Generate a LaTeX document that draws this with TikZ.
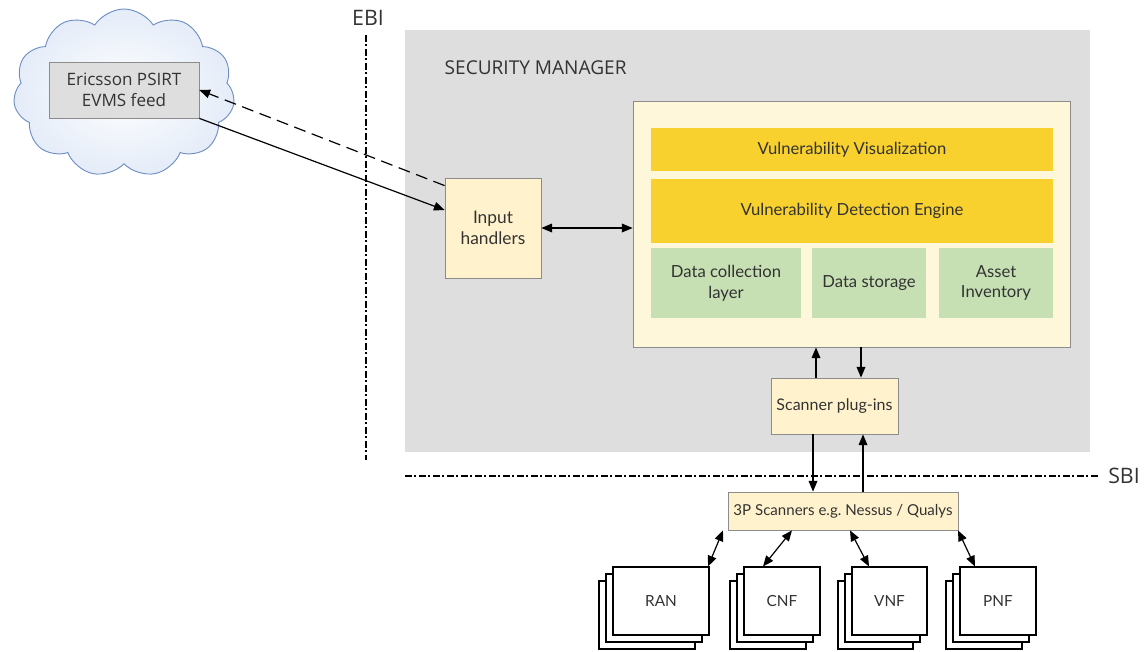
\documentclass[tikz,border=0pt]{standalone}
\usepackage{fontspec}
\setmainfont{Lato}
\newfontfamily\labelfont{Open Sans}
\usetikzlibrary{arrows.meta,calc,shapes.symbols}
\definecolor{panel}{HTML}{DEDEDE}
\definecolor{cream}{HTML}{FFF2CC}
\definecolor{creamlight}{HTML}{FFF7D9}
\definecolor{gold}{HTML}{F8D12F}
\definecolor{sage}{HTML}{C6E0B4}
\definecolor{edge}{HTML}{8C8C8C}
\definecolor{ink}{HTML}{333333}
\definecolor{cloudline}{HTML}{6F8FC4}
\definecolor{cloudfill}{HTML}{E4ECF8}
\begin{document}
\begin{tikzpicture}[x=0.75pt,y=-0.75pt,
  every node/.style={text=ink, font=\fontsize{12.5}{15.5}\selectfont},
  % rectangle given by its left, top, right and bottom edges
  region/.style n args={4}{at={({(#1+#3)/2},{(#2+#4)/2})},
     minimum width={0.75pt*(#3-(#1))}, minimum height={0.75pt*(#4-(#2))},
     inner sep=0pt, align=center},
  creambox/.style={draw=edge, fill=cream, line width=0.6pt},
  goldbar/.style={fill=gold},
  sagebox/.style={fill=sage},
  stackbox/.style={draw=black, fill=white, line width=0.8pt, font=\fontsize{11.5}{14}\selectfont},
  arr/.style={-{Triangle[length=8pt,width=6.5pt]}, line width=0.9pt},
  dblarr/.style={{Triangle[length=8pt,width=6.5pt]}-{Triangle[length=8pt,width=6.5pt]}, line width=0.9pt},
  border/.style={line width=1.7pt, dash pattern=on 5pt off 2pt on 1.5pt off 2pt}
]
\useasboundingbox (0,0) rectangle (1147,651);

% external feed in the cloud
\node[cloud, cloud puffs=11, cloud puff arc=115, aspect=1.4, draw=cloudline,
      line width=0.7pt, inner color=white, outer color=cloudfill,
      minimum width=166pt, minimum height=126pt] (cloud) at (124,93) {};
\node[region={49}{62}{199}{118}, draw=edge, fill=panel, line width=0.6pt,
      font=\labelfont\fontsize{12.8}{16}\selectfont] (eric) {Ericsson PSIRT\\EVMS feed};

% security manager panel
\node[region={405}{30}{1090}{452}, fill=panel] (sm) {};
\node[anchor=west, font=\labelfont\fontsize{14.3}{16}\selectfont] (smlabel) at (440,68) {SECURITY MANAGER};

% interface borders
\node[font=\labelfont\fontsize{16}{18}\selectfont] (ebi) at (368,18) {EBI};
\coordinate (ebitop) at (366,35);
\coordinate (ebibot) at (366,460);
\draw[border] (ebitop) -- (ebibot);
\node[font=\labelfont\fontsize{16}{18}\selectfont] (sbi) at (1124,476) {SBI};
\coordinate (sbileft) at (405,476);
\coordinate (sbiright) at (1100,476);
\draw[border] (sbileft) -- (sbiright);

% input handlers
\node[region={445}{178}{541}{278}, creambox, font=\fontsize{13}{15.5}\selectfont] (inp) {Input\\handlers};

% core block
\node[region={633}{101}{1070}{347}, draw=edge, fill=creamlight, line width=0.6pt] (core) {};
\node[region={651}{128}{1053}{171}, goldbar] (viz) {Vulnerability Visualization};
\node[region={651}{179}{1053}{243}, goldbar] (vde) {Vulnerability Detection Engine};
\node[region={651}{248}{801}{318}, sagebox] (dcl) {Data collection\\layer};
\node[region={812}{248}{926}{318}, sagebox] (dst) {Data storage};
\node[region={939}{248}{1053}{318}, sagebox] (inv) {Asset\\Inventory};

% scanner plug-ins and third-party scanners
\node[region={771}{378}{898}{434}, creambox, font=\fontsize{12}{14}\selectfont] (plug) {Scanner plug-ins};
\node[region={728}{492}{958}{530}, creambox, font=\fontsize{11.3}{14}\selectfont] (scan) {3P Scanners e.g.\ Nessus / Qualys};

% managed network functions (stacked)
\foreach \nm/\xl/\xr in {ran/613/709, cnf/744/820, vnf/852/927, pnf/960/1036}{
  \node[region={\xl-14}{581}{\xr-14}{649}, stackbox] (\nm3) {};
  \node[region={\xl-7}{574}{\xr-7}{642}, stackbox] (\nm2) {};
}
\node[region={613}{567}{709}{635}, stackbox] (ran) {RAN};
\node[region={744}{567}{820}{635}, stackbox] (cnf) {CNF};
\node[region={852}{567}{927}{635}, stackbox] (vnf) {VNF};
\node[region={960}{567}{1036}{635}, stackbox] (pnf) {PNF};

% connectors
\draw[arr] (eric.south east) -- ($(inp.west)+(0,-18)$);
\draw[arr, dash pattern=on 9pt off 5pt] ($(inp.north west)+(0,8)$) -- (eric.east);
\draw[dblarr] (inp.east) -- (core.west |- inp.east);

\coordinate (xa) at (816,0);
\coordinate (xb) at (861,0);
\coordinate (xc) at (813,0);
\coordinate (xd) at (863,0);
\draw[arr] (plug.north -| xa) -- (core.south -| xa);
\draw[arr] (core.south -| xb) -- (plug.north -| xb);
\draw[arr] (plug.south -| xc) -- (scan.north -| xc);
\draw[arr] (scan.north -| xd) -- (plug.south -| xd);

\coordinate (s1) at (723,0);
\coordinate (s2) at (792,0);
\coordinate (s3) at (850,0);
\coordinate (s4) at (958,0);
\coordinate (t1) at (708,0);
\coordinate (t2) at (763,0);
\coordinate (t3) at (869,0);
\coordinate (t4) at (975,0);
\draw[dblarr] (scan.south -| s1) -- (ran.north -| t1);
\draw[dblarr] (scan.south -| s2) -- (cnf.north -| t2);
\draw[dblarr] (scan.south -| s3) -- (vnf.north -| t3);
\draw[dblarr] (scan.south -| s4) -- (pnf.north -| t4);
\end{tikzpicture}
\end{document}
